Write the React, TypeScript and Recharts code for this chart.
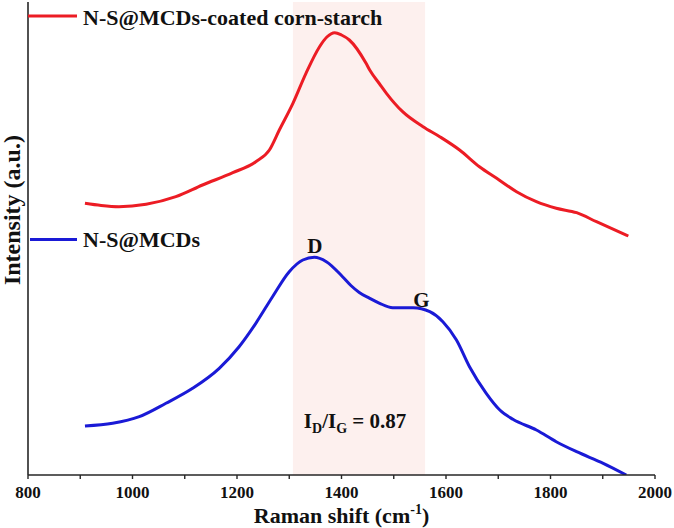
import React from 'react';
import {
  LineChart,
  Line,
  XAxis,
  YAxis,
  ReferenceArea,
  ReferenceDot,
  Label,
} from 'recharts';

// ---- data ----
const coatedX = [909, 940, 974, 1026, 1083, 1134, 1192, 1236, 1262, 1281, 1307, 1332, 1358, 1372, 1387, 1400, 1415, 1447, 1454, 1473, 1486, 1517, 1556, 1588, 1626, 1664, 1697, 1735, 1773, 1811, 1850, 1888, 1949];
const coatedY = [272.7, 270.5, 269.3, 271.7, 279.3, 291, 303.3, 314.3, 326, 346, 372.7, 402.7, 429.3, 439, 443.3, 441, 436, 412.7, 406, 392, 382.7, 364.3, 349.3, 339.3, 326, 309.3, 297.7, 284.3, 274.3, 267.7, 263.3, 254.3, 240];

const bareX = [909, 962, 1013, 1064, 1115, 1166, 1204, 1236, 1268, 1300, 1326, 1348, 1371, 1402, 1418, 1434, 1454, 1473, 1498, 1537, 1569, 1594, 1620, 1645, 1677, 1703, 1728, 1773, 1811, 1850, 1901, 1945];
const bareY = [50, 52.7, 59.3, 72.7, 87.7, 107.7, 129.3, 152.7, 179.3, 204.3, 216, 218.7, 214.3, 199.3, 190.5, 183.5, 177.7, 172.7, 168.3, 168.3, 164.3, 154.3, 136, 109.3, 82.7, 66, 56.7, 46, 34.3, 24.3, 12.7, 1];

const seriesNames = ['N-S@MCDs-coated corn-starch', 'N-S@MCDs'];
const seriesColors = ['#ec1c24', '#1a1ad6'];

const xTicks = [800, 900, 1000, 1100, 1200, 1300, 1400, 1500, 1600, 1700, 1800, 1900, 2000];
const xDomain = [800, 2000];
const yDomain = [1, 474];
const bandRange = [1307, 1560];

const peakD = { x: 1349, y: 222.7, text: 'D' };
const peakG = { x: 1553, y: 169.3, text: 'G' };
const ratioNote = { x: 1426, y: 47.7, value: '0.87' };

const coatedData = coatedX.map((x, i) => ({ x, y: coatedY[i] }));
const bareData = bareX.map((x, i) => ({ x, y: bareY[i] }));

const FONT = 'Liberation Serif';
const AXIS = '#262626';
const TXT: React.CSSProperties = { fontFamily: FONT, fontWeight: 700 };

const PeakLabel = (text: string) => (props: any) => {
  const vb = props.viewBox || {};
  const cx = (vb.x ?? 0) + (vb.width ?? 0) / 2;
  const cy = (vb.y ?? 0) + (vb.height ?? 0) / 2;
  return (
    <text x={cx} y={cy} textAnchor="middle" style={{ ...TXT, fontSize: 21 }} fill="#111">
      {text}
    </text>
  );
};

const RatioLabel = (props: any) => {
  const vb = props.viewBox || {};
  const cx = (vb.x ?? 0) + (vb.width ?? 0) / 2;
  const cy = (vb.y ?? 0) + (vb.height ?? 0) / 2;
  return (
    <text x={cx} y={cy} textAnchor="middle" style={{ ...TXT, fontSize: 21 }} fill="#111">
      I
      <tspan dy={5} style={{ fontSize: 14 }}>D</tspan>
      <tspan dy={-5}>/I</tspan>
      <tspan dy={5} style={{ fontSize: 14 }}>G</tspan>
      <tspan dy={-5}>{' = ' + ratioNote.value}</tspan>
    </text>
  );
};

const XTitle = (props: any) => {
  const vb = props.viewBox || {};
  const cx = (vb.x ?? 0) + (vb.width ?? 0) / 2;
  const y = (vb.y ?? 0) + 48;
  return (
    <text x={cx} y={y} textAnchor="middle" style={{ ...TXT, fontSize: 22 }} fill="#111">
      Raman shift (cm
      <tspan dy={-9} style={{ fontSize: 14 }}>-1</tspan>
      <tspan dy={9}>)</tspan>
    </text>
  );
};

const YTitle = (props: any) => {
  const vb = props.viewBox || {};
  const x = 20;
  const cy = (vb.y ?? 0) + (vb.height ?? 0) * 0.44;
  return (
    <text
      x={x}
      y={cy}
      transform={`rotate(-90, ${x}, ${cy})`}
      textAnchor="middle"
      style={{ ...TXT, fontSize: 24 }}
      fill="#111"
    >
      Intensity (a.u.)
    </text>
  );
};

const legendPos = [
  { x1: 28, x2: 77, y: 16, tx: 83, ty: 25 },
  { x1: 30, x2: 77, y: 239.5, tx: 83, ty: 247 },
];

export default function App() {
  return (
    <div style={{ position: 'absolute', left: 0, top: 0, width: 674, height: 528, background: '#fff', fontFamily: FONT }}>
      <LineChart
        width={674}
        height={528}
        margin={{ top: 2, right: 19, bottom: 0, left: 0 }}
      >
        <ReferenceArea
          x1={bandRange[0]}
          x2={bandRange[1]}
          y1={yDomain[0]}
          y2={yDomain[1]}
          fill="#fdf0ee"
          fillOpacity={1}
          stroke="none"
          ifOverflow="visible"
        />
        <XAxis
          type="number"
          dataKey="x"
          domain={xDomain}
          ticks={xTicks}
          interval={0}
          allowDataOverflow
          height={53}
          tickSize={4}
          tickMargin={7}
          tickFormatter={(v: number) => (v % 200 === 0 ? String(v) : '')}
          tick={{ fontFamily: FONT, fontWeight: 700, fontSize: 17, fill: '#111' } as any}
          axisLine={{ stroke: AXIS, strokeWidth: 1.6 }}
          tickLine={{ stroke: AXIS, strokeWidth: 1.4 }}
        >
          <Label content={XTitle} />
        </XAxis>
        <XAxis
          xAxisId="top"
          orientation="top"
          type="number"
          domain={xDomain}
          height={0}
          tick={false}
          tickLine={false}
          axisLine={{ stroke: AXIS, strokeWidth: 1.6 }}
        />
        <YAxis
          type="number"
          domain={yDomain}
          allowDataOverflow
          width={28}
          tick={false}
          tickLine={false}
          axisLine={{ stroke: AXIS, strokeWidth: 1.6 }}
        >
          <Label content={YTitle} />
        </YAxis>
        <YAxis
          yAxisId="right"
          orientation="right"
          type="number"
          domain={yDomain}
          width={0}
          tick={false}
          tickLine={false}
          axisLine={{ stroke: AXIS, strokeWidth: 1.6 }}
        />
        <Line
          data={coatedData}
          dataKey="y"
          name={seriesNames[0]}
          type="monotone"
          stroke={seriesColors[0]}
          strokeWidth={3}
          dot={false}
          isAnimationActive={false}
        />
        <Line
          data={bareData}
          dataKey="y"
          name={seriesNames[1]}
          type="monotone"
          stroke={seriesColors[1]}
          strokeWidth={3}
          dot={false}
          isAnimationActive={false}
        />
        <ReferenceDot x={peakD.x} y={peakD.y} r={0} fill="none" stroke="none" ifOverflow="visible" label={{ content: PeakLabel(peakD.text) } as any} />
        <ReferenceDot x={peakG.x} y={peakG.y} r={0} fill="none" stroke="none" ifOverflow="visible" label={{ content: PeakLabel(peakG.text) } as any} />
        <ReferenceDot x={ratioNote.x} y={ratioNote.y} r={0} fill="none" stroke="none" ifOverflow="visible" label={{ content: RatioLabel } as any} />
      </LineChart>
      <svg
        width={674}
        height={528}
        style={{ position: 'absolute', left: 0, top: 0, pointerEvents: 'none' }}
      >
        {seriesNames.map((name, i) => (
          <g key={name}>
            <line x1={legendPos[i].x1} x2={legendPos[i].x2} y1={legendPos[i].y} y2={legendPos[i].y} stroke={seriesColors[i]} strokeWidth={3} />
            <text x={legendPos[i].tx} y={legendPos[i].ty} style={{ ...TXT, fontSize: 22 }} fill="#111">
              {name}
            </text>
          </g>
        ))}
      </svg>
    </div>
  );
}
